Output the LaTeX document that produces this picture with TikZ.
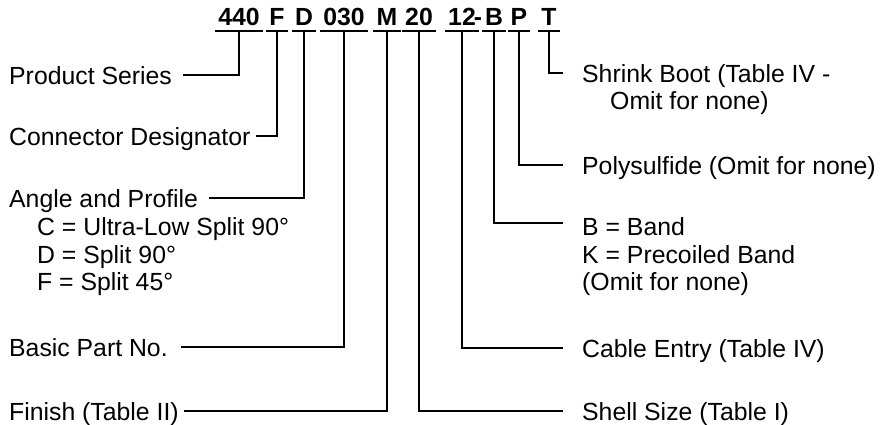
\documentclass[tikz,border=0pt]{standalone}
\usepackage{fontspec}
\setmainfont{Liberation Sans}
\usetikzlibrary{calc}
\begin{document}
\begin{tikzpicture}[x=1pt,y=-1pt,
  lbl/.style={font=\fontsize{24.8}{29}\selectfont, inner sep=0pt, text height=18pt, text depth=0pt, anchor=base west},
  code/.style={font=\fontsize{24.8}{29}\selectfont\bfseries, inner sep=0pt, text height=18pt, text depth=0pt, anchor=base},
  ln/.style={line width=1.9pt},
  link/.style={line width=1.9pt, line join=miter}]
\useasboundingbox (0,0) rectangle (889,424);
\coordinate (u) at (0,31);
% code parts
\node[code] (c440) at (239,25) {440};
\node[code] (cF) at (277,25) {F};
\node[code] (cD) at (304,25) {D};
\node[code] (c030) at (344,25) {030};
\node[code] (cM) at (387,25) {M};
\node[code] (c20) at (419,25) {20};
\node[code] (c12) at (462,25) {12};
\node[code] (cdash) at (478,25) {-};
\node[code] (cB) at (494,25) {B};
\node[code] (cP) at (519,25) {P};
\node[code] (cT) at (549,25) {T};
\foreach \n in {c440,cF,cD,c030,cM,c20,c12,cB,cP,cT}
  \draw[ln] ($(\n.west|-u)+(-3,0)$) -- ($(\n.east|-u)+(3,0)$);
% left labels
\node[lbl] (ps) at (9,84) {Product Series};
\node[lbl] (cd) at (9,145) {Connector Designator};
\node[lbl] (ap) at (9,207) {Angle and Profile};
\node[lbl] (apC) at (37,235) {C = Ultra-Low Split 90°};
\node[lbl] (apD) at (37,263) {D = Split 90°};
\node[lbl] (apF) at (37,290) {F = Split 45°};
\node[lbl] (bp) at (9,356) {Basic Part No.};
\node[lbl] (fi) at (9,420) {Finish (Table II)};
% right labels
\node[lbl] (sb) at (582,82) {Shrink Boot (Table IV -};
\node[lbl] (sb2) at (610,109) {Omit for none)};
\node[lbl] (po) at (582,174) {Polysulfide (Omit for none)};
\node[lbl] (bb) at (582,235) {B = Band};
\node[lbl] (bk) at (582,263) {K = Precoiled Band};
\node[lbl] (bo) at (582,290) {(Omit for none)};
\node[lbl] (ce) at (582,357) {Cable Entry (Table IV)};
\node[lbl] (ss) at (582,420) {Shell Size (Table I)};
% connectors
\draw[link] (c440.center|-u) |- ([xshift=11pt]ps.east);
\draw[link] (cF.center|-u) |- ([xshift=5pt]cd.east);
\draw[link] (cD.center|-u) |- ([xshift=11pt]ap.east);
\draw[link] (c030.center|-u) |- ([xshift=13pt]bp.east);
\draw[link] (cM.center|-u) |- ([xshift=5pt]fi.east);
\draw[link] (c20.center|-u) |- ([xshift=-19pt]ss.west);
\draw[link] (c12.center|-u) |- ([xshift=-19pt]ce.west);
\draw[link] (cB.center|-u) |- ([xshift=-19pt,yshift=3pt]bb.west);
\draw[link] (cP.center|-u) |- ([xshift=-19pt]po.west);
\draw[link] (cT.center|-u) |- ([xshift=-19pt]sb.west);
\end{tikzpicture}
\end{document}
